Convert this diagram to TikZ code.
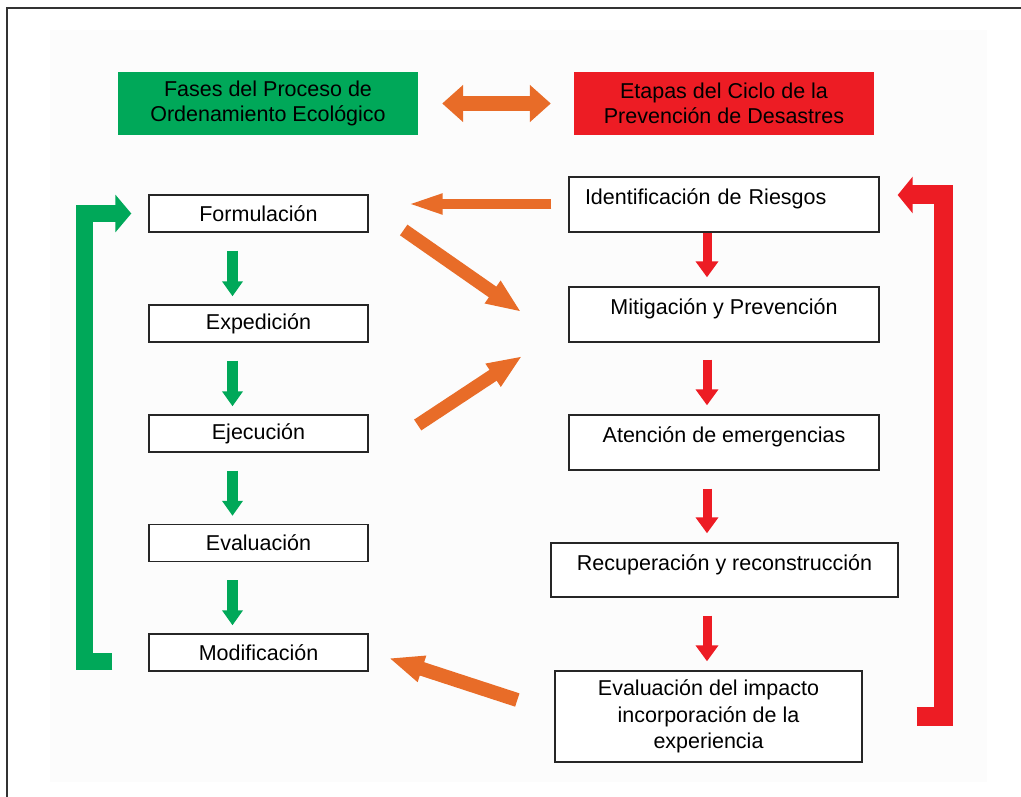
\documentclass[tikz,border=0pt]{standalone}
\usepackage{fontspec}
\setmainfont{Liberation Sans}
\usetikzlibrary{arrows.meta}
\definecolor{verde}{RGB}{0,168,89}
\definecolor{rojo}{RGB}{237,28,36}
\definecolor{naranja}{RGB}{232,108,40}
\definecolor{fondo}{RGB}{252,252,252}
\begin{document}
\begin{tikzpicture}[x=1pt,y=-1pt,
  caja/.style={draw=black!85,line width=1.4pt,fill=white,inner sep=0pt,
    minimum width=219pt,minimum height=37pt,font=\fontsize{21.5}{26.5}\selectfont},
  cajader/.style={caja,minimum width=310pt,minimum height=55pt,text height=15pt,text depth=15pt},
  titulo/.style={inner sep=0pt,minimum width=300pt,minimum height=63pt,align=center,
    font=\fontsize{21.5}{24.5}\selectfont},
  flechaverde/.style={verde,line width=11pt,-{Triangle[width=20pt,length=15pt]}},
  flecharoja/.style={rojo,line width=9pt,-{Triangle[width=22pt,length=16pt]}},
  flechanar/.style={naranja,line width=13pt,-{Triangle[width=25pt,length=35pt]}},
  corchete/.style={#1,line width=17pt,miter limit=10}]
\useasboundingbox (0,0) rectangle (1021,797);
\fill[fondo] (50,30) rectangle (987,782);
\draw[line width=1.2pt,black!80] (7,797) -- (7,8) -- (1021,8);

\node[titulo,fill=verde] (fases) at (268,103.5) {Fases del Proceso de\\Ordenamiento Ecológico};
\node[titulo,fill=rojo] (etapas) at (724,103.5) {Etapas del Ciclo de la\\Prevención de Desastres};
\draw[naranja,line width=15pt,{Triangle[width=36pt,length=21pt]}-{Triangle[width=36pt,length=21pt]}]
  ([xshift=24pt]fases.east) -- ([xshift=-23pt]etapas.west);

\node[caja] (form) at (258.5,213.5) {Formulación};
\node[caja] (exp) at (258.5,323.5) {Expedición};
\node[caja] (eje) at (258.5,433.5) {Ejecución};
\node[caja] (evl) at (258.5,543) {Evaluación};
\node[caja] (mod) at (258.5,652.5) {Modificación};

\node[cajader,text width=278pt,align=left] (ide) at (724,204.5) {Identificación de Riesgos};
\node[cajader] (mit) at (724,314.5) {Mitigación y Prevención};
\node[cajader] (ate) at (724,442.5) {Atención de emergencias};
\node[cajader,minimum width=347pt,minimum height=54pt] (rec) at (724.5,570) {Recuperación y reconstrucción};
\node[caja,minimum width=307pt,minimum height=91pt,align=center] (eva) at (708.5,716.5)
  {Evaluación del impacto\\incorporación de la\\experiencia};

\foreach \a/\b in {form/exp,exp/eje,eje/evl,evl/mod}
  \draw[flechaverde] ([xshift=-26pt,yshift=-18pt]\a.south) -- ([xshift=-26pt,yshift=8pt]\b.north);
\foreach \a/\b/\r/\s/\t in {ide/mit/-17/0/-17,mit/ate/-17/17/-17,ate/rec/-17/18/-17.5,rec/eva/-17.5/18/-1.5}
  \draw[flecharoja] ([xshift=\r pt,yshift=-\s pt]\a.south) -- ([xshift=\t pt,yshift=9pt]\b.north);

\draw[corchete=verde,-{Triangle[width=37pt,length=16pt]}]
  ([xshift=-36pt,yshift=-8.5pt]mod.west) -- ++(-28,0) |- ([xshift=-17pt]form.west);
\draw[corchete=rojo,line width=19pt,-{Triangle[width=36pt,length=15pt]}]
  ([xshift=54pt]eva.east) -- ++(27,0) |- ([xshift=18pt,yshift=9.5pt]ide.east);

\draw[flechanar,line width=10pt,-{Triangle[width=18pt,length=37pt]}]
  ([xshift=-17pt,yshift=0.5pt]ide.west) -- ([xshift=37pt,yshift=9.5pt]form.east);
\draw[flechanar] ([xshift=35pt,yshift=-16.5pt]form.east) -- ([xshift=-47pt,yshift=2.5pt]mit.west);
\draw[flechanar] ([xshift=49pt,yshift=8.5pt]eje.east) -- ([xshift=-46pt,yshift=-41.5pt]mit.west);
\draw[flechanar,line width=14pt] ([xshift=-37pt,yshift=16.5pt]eva.west) -- ([xshift=20pt,yshift=-5.5pt]mod.east);
\end{tikzpicture}
\end{document}
